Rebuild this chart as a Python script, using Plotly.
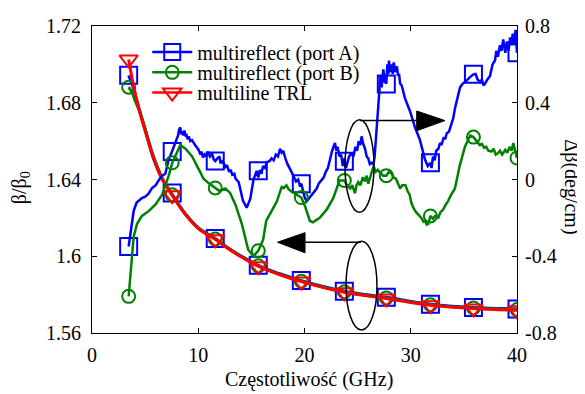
import plotly.graph_objects as go

# ---------------- data ----------------
# marker positions (GHz)
mk_x = [3.45, 7.55, 11.6, 15.65, 19.7, 23.75, 27.7, 31.85, 35.9, 40.0]

# beta/beta0 (left axis) - dense curves
beta_x = [3.45, 3.8, 4.1, 4.55, 5.18, 5.8, 6.59, 7.55, 8.78, 10.04, 11.6, 13.18,
          15.65, 17.6, 19.7, 23.75, 27.7, 31.85, 35.9, 40.0]
beta_A = [1.6943, 1.6895, 1.6835, 1.6745, 1.6625, 1.6508, 1.6405, 1.6322, 1.6222, 1.6147, 1.6092, 1.6030,
          1.5953, 1.5910, 1.5873, 1.5818, 1.5786, 1.5750, 1.5733, 1.5725]
beta_B = [1.6881, 1.6850, 1.6805, 1.6745, 1.6630, 1.6518, 1.6410, 1.6320, 1.6220, 1.6145, 1.6090, 1.6028,
          1.5950, 1.5907, 1.5870, 1.5815, 1.5783, 1.5747, 1.5730, 1.5722]
beta_T = [1.7026, 1.6920, 1.6840, 1.6739, 1.6621, 1.6510, 1.6403, 1.6318, 1.6219, 1.6143, 1.6088, 1.6026,
          1.5948, 1.5905, 1.5868, 1.5812, 1.5780, 1.5745, 1.5728, 1.5718]
# beta/beta0 values at markers
beta_A_mk = [1.6943, 1.6330, 1.6092, 1.5953, 1.5873, 1.5818, 1.5786, 1.5750, 1.5733, 1.5725]
beta_B_mk = [1.6881, 1.6320, 1.6090, 1.5950, 1.5870, 1.5815, 1.5783, 1.5747, 1.5730, 1.5722]
beta_T_mk = [1.7026, 1.6318, 1.6088, 1.5948, 1.5868, 1.5812, 1.5780, 1.5745, 1.5728, 1.5718]

# delta beta (deg/cm) (right axis) - port A
dA_x = [3.45, 3.6, 3.92, 4.2, 4.7, 5.0, 5.3, 5.65, 6.0, 6.27, 6.6, 6.9, 7.22, 7.53, 7.84, 8.1, 8.2, 8.31,
        8.4, 8.5, 8.6, 8.7, 8.8, 8.9, 9.0, 9.1, 9.25, 9.41, 9.7, 10.04, 10.2, 10.3, 10.45, 10.6, 10.75,
        10.9, 11.1, 11.3, 11.45, 11.6, 11.8, 12.0, 12.1, 12.3, 12.55, 12.7, 12.9, 13.05, 13.2, 13.4, 13.5,
        13.8, 14.0, 14.2, 14.56, 14.9, 15.2, 15.5, 15.65, 15.8, 15.95, 16.1, 16.3, 16.44, 16.7, 16.9,
        17.1, 17.3, 17.5, 17.7, 17.85, 18.0, 18.2, 18.4, 18.8, 19.2, 19.4, 19.55, 19.7, 19.85, 20.0,
        20.2, 20.4, 20.6, 20.8, 21.0, 21.15, 21.35, 21.6, 21.8, 22.0, 22.2, 22.4, 22.6, 22.87, 23.0,
        23.1, 23.3, 23.45, 23.6, 23.75, 23.9, 24.05, 24.2, 24.44, 24.6, 24.8, 24.95, 25.1, 25.25, 25.38,
        25.5, 25.7, 25.85, 26.0, 26.15, 26.3, 26.5, 26.6, 26.85, 27.04, 27.15, 27.26, 27.42, 27.55,
        27.7, 27.8, 27.9, 27.95, 28.05, 28.2, 28.3, 28.4, 28.55, 28.7, 28.8, 28.9, 29.0, 29.15, 29.46,
        29.93, 30.4, 30.87, 31.34, 31.6, 31.85, 31.95, 32.1, 32.25, 32.4, 32.6, 32.75, 32.9, 33.1,
        33.25, 33.38, 33.6, 33.85, 34.0, 34.16, 34.4, 34.64, 34.9, 35.26, 35.5, 35.9, 36.1, 36.3, 36.5,
        36.7, 36.85, 37.0, 37.2, 37.46, 37.7, 37.93, 38.05, 38.2, 38.4, 38.55, 38.7, 38.8, 38.9, 39.05,
        39.2, 39.35, 39.45, 39.6, 39.7, 39.87, 40.0]
dA_v = [-0.349, -0.28, -0.165, -0.12, -0.097, -0.09, -0.075, -0.045, -0.03, -0.005, 0.02, 0.03, 0.104,
        0.146, 0.188, 0.23, 0.26, 0.272, 0.235, 0.25, 0.23, 0.255, 0.225, 0.23, 0.21, 0.225, 0.20, 0.205,
        0.18, 0.154, 0.13, 0.145, 0.115, 0.13, 0.12, 0.145, 0.12, 0.135, 0.105, 0.096, 0.11, 0.12, 0.085,
        0.095, 0.065, 0.075, 0.04, 0.05, 0.025, 0.03, 0.005, -0.014, -0.06, -0.11, -0.147, -0.10, 0.0,
        0.045, 0.01, 0.05, 0.03, 0.07, 0.06, 0.09, 0.095, 0.11, 0.10, 0.13, 0.12, 0.16, 0.14, 0.15, 0.11,
        0.08, 0.037, -0.01, 0.0, -0.03, -0.022, -0.06, -0.09, -0.114, -0.10, -0.09, -0.07, -0.06, -0.047,
        -0.02, 0.0, 0.01, 0.04, 0.06, 0.104, 0.15, 0.19, 0.15, 0.17, 0.12, 0.13, 0.07, 0.11, 0.06, 0.09,
        0.12, 0.14, 0.12, 0.17, 0.15, 0.20, 0.18, 0.225, 0.19, 0.16, 0.12, 0.11, 0.08, 0.087, 0.08, 0.12,
        0.305, 0.473, 0.54, 0.48, 0.574, 0.51, 0.50, 0.60, 0.55, 0.62, 0.56, 0.60, 0.55, 0.61, 0.56, 0.59,
        0.54, 0.55, 0.50, 0.49, 0.423, 0.356, 0.272, 0.205, 0.104, 0.07, 0.087, 0.06, 0.12, 0.10, 0.15,
        0.16, 0.19, 0.18, 0.22, 0.21, 0.24, 0.25, 0.29, 0.32, 0.37, 0.43, 0.48, 0.50, 0.515, 0.53, 0.548,
        0.55, 0.52, 0.51, 0.52, 0.49, 0.50, 0.52, 0.54, 0.60, 0.62, 0.67, 0.64, 0.70, 0.67, 0.73, 0.70,
        0.66, 0.72, 0.67, 0.74, 0.70, 0.76, 0.70, 0.78, 0.66]
dA_mk = [-0.349, 0.146, 0.096, 0.045, -0.022, 0.095, 0.498, 0.087, 0.548, 0.66]

# delta beta (deg/cm) - port B
dB_x = [3.45, 3.6, 3.92, 4.24, 4.7, 5.33, 5.96, 6.59, 7.22, 7.55, 8.0, 8.31, 8.8, 9.41, 10.04, 10.5,
        11.0, 11.6, 12.0, 12.55, 13.0, 13.5, 13.8, 14.1, 14.4, 14.7, 15.2, 15.65, 16.1, 16.4, 16.9, 17.4,
        17.85, 18.05, 18.3, 18.5, 18.8, 19.0, 19.3, 19.7, 20.05, 20.5, 20.8, 21.46, 22.1, 22.7, 23.3,
        23.75, 24.0, 24.3, 24.5, 24.75, 24.9, 25.06, 25.25, 25.5, 25.7, 25.85, 26.0, 26.2, 26.35, 26.5,
        26.7, 26.9, 27.1, 27.4, 27.7, 27.95, 28.2, 28.4, 28.6, 28.8, 29.0, 29.2, 29.5, 29.7, 29.9,
        30.05, 30.24, 30.5, 30.7, 31.0, 31.2, 31.34, 31.5, 31.65, 31.85, 32.1, 32.3, 32.6, 32.8, 33.06,
        33.3, 33.5, 33.8, 34.16, 34.6, 35.1, 35.6, 35.9, 36.2, 36.5, 36.7, 36.9, 37.1, 37.3, 37.6, 37.8,
        38.0, 38.2, 38.4, 38.6, 38.9, 39.1, 39.3, 39.5, 39.65, 39.8, 40.0]
dB_v = [-0.609, -0.498, -0.298, -0.231, -0.19, -0.165, -0.131, -0.081, 0.020, 0.087, 0.137, 0.179,
        0.16, 0.121, 0.054, 0.004, -0.02, -0.044, -0.06, -0.047, -0.07, -0.131, -0.181, -0.231, -0.298,
        -0.366, -0.399, -0.371, -0.315, -0.215, -0.165, -0.114, -0.039, -0.045, -0.030, -0.05, -0.064,
        -0.07, -0.08, -0.094, -0.139, -0.215, -0.223, -0.198, -0.156, -0.097, -0.005, -0.005, -0.03,
        -0.047, -0.03, -0.072, -0.03, -0.014, -0.03, 0.012, -0.01, 0.02, -0.022, 0.02, 0.04, 0.07, 0.04,
        0.05, 0.037, 0.02, 0.02, 0.04, 0.03, 0.01, 0.004, -0.02, -0.047, -0.03, -0.03, -0.06, -0.081,
        -0.12, -0.147, -0.17, -0.181, -0.20, -0.22, -0.215, -0.235, -0.231, -0.19, -0.205, -0.19, -0.198,
        -0.17, -0.156, -0.13, -0.114, -0.08, -0.047, 0.070, 0.171, 0.230, 0.221, 0.20, 0.179, 0.185,
        0.165, 0.171, 0.15, 0.146, 0.16, 0.13, 0.137, 0.15, 0.13, 0.154, 0.14, 0.17, 0.15, 0.19, 0.154,
        0.112]
dB_mk = [-0.609, 0.087, -0.044, -0.371, -0.094, -0.005, 0.020, -0.19, 0.221, 0.112]

# axis ticks
x_ticks = [0, 10, 20, 30, 40]
y_ticks = [1.56, 1.60, 1.64, 1.68, 1.72]
y_ticktext = ["1.56", "1.6", "1.64", "1.68", "1.72"]
y2_ticks = [-0.8, -0.4, 0, 0.4, 0.8]
y2_ticktext = ["-0.8", "-0.4", "0", "0.4", "0.8"]

names = ["multireflect (port A)", "multireflect (port B)", "multiline TRL"]

# ---------------- figure ----------------
BLUE, GREEN, RED = "#0000FF", "#008000", "#FF0000"
FONT = "Liberation Serif"
FS = 20
fig = go.Figure()


def line(x, y, color, w, yaxis):
    fig.add_trace(go.Scatter(x=x, y=y, mode="lines", yaxis=yaxis, showlegend=False,
                             line=dict(color=color, width=w, shape="spline" if yaxis == "y" else "linear"),
                             hoverinfo="skip"))


def marks(x, y, color, sym, size, yaxis):
    fig.add_trace(go.Scatter(x=x, y=y, mode="markers", yaxis=yaxis, showlegend=False,
                             marker=dict(symbol=sym, size=size, color=color,
                                         line=dict(color=color, width=2)),
                             hoverinfo="skip"))


# delta-beta curves (right axis)
line(dA_x, dA_v, BLUE, 2.5, "y2")
marks(mk_x, dA_mk, BLUE, "square-open", 17, "y2")
line(dB_x, dB_v, GREEN, 2.5, "y2")
marks(mk_x, dB_mk, GREEN, "circle-open", 13, "y2")

# beta curves (left axis)
line(beta_x, beta_A, BLUE, 3, "y")
marks(mk_x, beta_A_mk, BLUE, "square-open", 17, "y")
line(beta_x, beta_B, GREEN, 3, "y")
marks(mk_x, beta_B_mk, GREEN, "circle-open", 13, "y")
line(beta_x, beta_T, RED, 3, "y")
marks(mk_x, beta_T_mk, RED, "triangle-down-open", 16, "y")

# legend entries (one small legend per row, to match the tight row spacing)
legend_ids = ["legend", "legend2", "legend3"]
for nm, col, sym, sz, lg in zip(names, [BLUE, GREEN, RED],
                                ["square-open", "circle-open", "triangle-down-open"], [17, 13, 16],
                                legend_ids):
    fig.add_trace(go.Scatter(x=[None], y=[None], mode="lines+markers", name=nm, legend=lg,
                             line=dict(color=col, width=2.5),
                             marker=dict(symbol=sym, size=sz, color=col,
                                         line=dict(color=col, width=2))))

# annotation ellipses and arrows
shapes = []
shp_line = dict(color="black", width=1.5)
shapes.append(dict(type="circle", xref="x", yref="y2", x0=23.81, x1=26.54, y0=-0.171, y1=0.312, line=shp_line))
shapes.append(dict(type="line", xref="x", yref="y2", x0=25.22, x1=30.7, y0=0.307, y1=0.307, line=shp_line))
shapes.append(dict(type="path", xref="x", yref="y2", path="M30.56,0.357 L33.22,0.307 L30.56,0.254 Z",
                   fillcolor="black", line=dict(color="black", width=1)))
shapes.append(dict(type="circle", xref="x", yref="y2", x0=23.91, x1=26.82, y0=-0.785, y1=-0.322, line=shp_line))
shapes.append(dict(type="line", xref="x", yref="y2", x0=25.32, x1=19.95, y0=-0.327, y1=-0.327, line=shp_line))
shapes.append(dict(type="path", xref="x", yref="y2", path="M20.05,-0.277 L17.46,-0.327 L20.05,-0.382 Z",
                   fillcolor="black", line=dict(color="black", width=1)))

tickfont = dict(family=FONT, size=FS, color="black")
axis_common = dict(showline=True, linecolor="black", linewidth=1, ticks="inside", ticklen=5,
                   tickcolor="black", showgrid=False, zeroline=False, tickfont=tickfont,
                   ticklabeloverflow="allow")

leg_common = dict(x=0.13, xanchor="left", yanchor="middle", bgcolor="rgba(0,0,0,0)",
                  font=dict(family=FONT, size=FS, color="black"), itemwidth=40,
                  borderwidth=0)

# the page body adds an 8px margin; the figure is sized so that the
# plotting area lands at x 92..517, y 15..333 of the 585x394 window
fig.update_layout(
    width=577, height=386,
    margin=dict(l=84, r=68, t=7, b=61),
    paper_bgcolor="white", plot_bgcolor="white",
    font=dict(family=FONT, size=FS, color="black"),
    xaxis=dict(range=[0, 40], tickvals=x_ticks, mirror="ticks", ticklabelstandoff=4, **axis_common),
    yaxis=dict(range=[1.56, 1.72], tickvals=y_ticks, ticktext=y_ticktext, mirror=True,
               ticklabelstandoff=6, **axis_common),
    yaxis2=dict(range=[-0.8, 0.8], tickvals=y2_ticks, ticktext=y2_ticktext, overlaying="y", side="right",
                ticklabelstandoff=3, **axis_common),
    showlegend=True,
    legend=dict(y=0.915, **leg_common),
    legend2=dict(y=0.849, **leg_common),
    legend3=dict(y=0.783, **leg_common),
    shapes=shapes,
    annotations=[
        dict(text="Częstotliwość (GHz)", xref="paper", yref="paper", x=0.51, y=-0.153,
             xanchor="center", yanchor="middle", showarrow=False, font=dict(family=FONT, size=FS)),
        dict(text="β/β<sub>0</sub>", xref="paper", yref="paper", x=-0.169, y=0.472, textangle=-90,
             xanchor="center", yanchor="middle", showarrow=False, font=dict(family=FONT, size=FS)),
        dict(text="Δβ(deg/cm)", xref="paper", yref="paper", x=1.129, y=0.475, textangle=90,
             xanchor="center", yanchor="middle", showarrow=False, font=dict(family=FONT, size=FS)),
    ],
)

fig.write_html("out.html")
